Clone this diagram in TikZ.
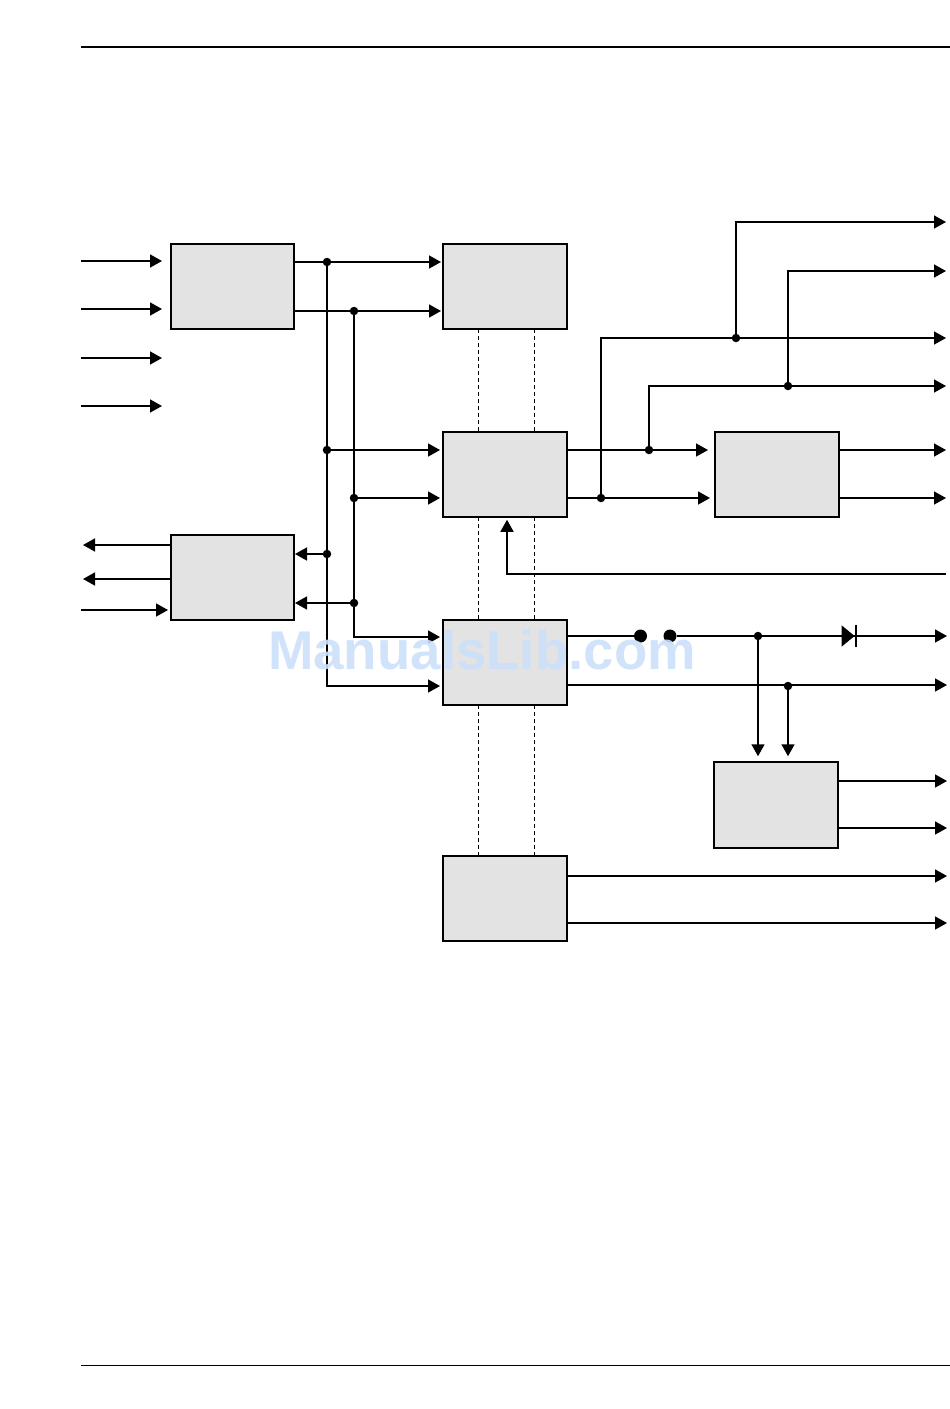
\documentclass[tikz,border=0pt]{standalone}
\usepackage{fontspec}
\setmainfont{Liberation Sans}
\usepackage{xcolor}
\usetikzlibrary{arrows.meta, positioning}
\definecolor{boxgray}{HTML}{E3E3E3}
\definecolor{markblue}{HTML}{CCE0FA}

\begin{document}
\begin{tikzpicture}[
  x=1pt, y=-1pt,
  block/.style={rectangle, draw=black, fill=boxgray, line width=1.8pt, outer sep=0pt,
                minimum width=123pt, minimum height=84.5pt, inner sep=0pt},
  wideblock/.style={block, minimum width=124pt},
  dot/.style={circle, fill=black, inner sep=0pt, minimum size=8.5pt},
  contact/.style={circle, fill=black, inner sep=0pt, minimum size=13pt},
  wire/.style={line width=1.6pt},
  arr/.style={wire, -{Triangle[length=12pt,width=13pt]}},
  bus/.style={line width=0.8pt, dash pattern=on 4pt off 3pt},
  node distance=103.5pt and 149pt
]
  \useasboundingbox (0,0) rectangle (950,1409);

  % rules
  \coordinate (t1) at (81,47);
  \coordinate (t2) at (950,47);
  \coordinate (b1) at (81,1365);
  \coordinate (b2) at (950,1365);
  \draw[line width=2pt] (t1) -- (t2);
  \draw[line width=0.9pt] (b1) -- (b2);

  % blocks
  \node[block] (ina) at (232.5,286.5) {};
  \node[wideblock, right=of ina] (chb) {};
  \node[wideblock, below=of chb] (chc) {};
  \node[wideblock, right=148pt of chc] (chd) {};
  \node[wideblock, below=103pt of chc, minimum height=85.5pt] (chf) {};
  \node[wideblock, below=151pt of chf] (chh) {};
  \node[block, below=206.5pt of ina] (ine) {};
  \node[wideblock, below=245.5pt of chd, xshift=-1pt, minimum height=85.5pt] (chg) {};

  % dashed links
  \coordinate (l1) at (478,0);
  \coordinate (l2) at (534,0);
  \draw[bus] (chb.south -| l1) -- (chc.north -| l1);
  \draw[bus] (chc.south -| l1) -- (chf.north -| l1);
  \draw[bus] (chf.south -| l1) -- (chh.north -| l1);
  \draw[bus] (chb.south -| l2) -- (chc.north -| l2);
  \draw[bus] (chc.south -| l2) -- (chf.north -| l2);
  \draw[bus] (chf.south -| l2) -- (chh.north -| l2);

  % junctions
  \node[dot] (j1) at (327,262) {};
  \node[dot] (j2) at (354,311) {};
  \node[dot] (j3) at (327,450) {};
  \node[dot] (j4) at (354,498) {};
  \node[dot] (j5) at (327,554) {};
  \node[dot] (j6) at (354,603) {};
  \node[dot] (j7) at (601,498) {};
  \node[dot] (j8) at (649,450) {};
  \node[dot] (j9) at (736,338) {};
  \node[dot] (j10) at (788,386) {};
  \node[dot] (j11) at (758,636) {};
  \node[dot] (j12) at (788,686) {};

  % free ends
  \coordinate (i1a) at (81,261);
  \coordinate (i1b) at (162,261);
  \coordinate (i2a) at (81,309);
  \coordinate (i2b) at (162,309);
  \coordinate (i3a) at (81,358);
  \coordinate (i3b) at (162,358);
  \coordinate (i4a) at (81,406);
  \coordinate (i4b) at (162,406);
  \coordinate (e1) at (83,545);
  \coordinate (e2) at (83,579);
  \coordinate (e3) at (81,610);
  \coordinate (o1) at (946,222);
  \coordinate (o2) at (946,271);
  \coordinate (o3) at (946,338);
  \coordinate (o4) at (946,386);
  \coordinate (o5) at (946,450);
  \coordinate (o6) at (946,498);
  \coordinate (o7) at (946,574);
  \coordinate (o8) at (947,636);
  \coordinate (o9) at (947,685);
  \coordinate (o10) at (947,781);
  \coordinate (o11) at (947,828);
  \coordinate (o12) at (947,876);
  \coordinate (o13) at (947,923);

  \draw[arr] (i1a) -- (i1b);
  \draw[arr] (i2a) -- (i2b);
  \draw[arr] (i3a) -- (i3b);
  \draw[arr] (i4a) -- (i4b);
  \draw[arr] (ine.west |- e1) -- (e1);
  \draw[arr] (ine.west |- e2) -- (e2);
  \draw[arr, shorten >=3pt] (e3) -- (ine.west |- e3);

  % left buses
  \draw[arr, shorten >=2pt] (ina.east |- j1) -- (chb.west |- j1);
  \draw[arr, shorten >=2pt] (ina.east |- j2) -- (chb.west |- j2);
  \draw[wire] (j1) -- (j5);
  \draw[arr, shorten >=3pt] (j1) |- (chf.west |- 0,686);
  \draw[arr, shorten >=3pt] (j2) |- (chf.west |- 0,637);
  \draw[arr, shorten >=3pt] (j3) -- (chc.west |- j3);
  \draw[arr, shorten >=3pt] (j4) -- (chc.west |- j4);
  \draw[arr, shorten >=1pt] (j5) -- (ine.east |- j5);
  \draw[arr, shorten >=1pt] (j6) -- (ine.east |- j6);

  % channel c
  \draw[arr, shorten >=7pt] (chc.east |- j8) -- (chd.west |- j8);
  \draw[arr, shorten >=5pt] (chc.east |- j7) -- (chd.west |- j7);
  \draw[arr] (j7) |- (o3);
  \draw[arr] (j8) |- (o4);
  \draw[arr] (j9) |- (o1);
  \draw[arr] (j10) |- (o2);
  \draw[arr] (chd.east |- o5) -- (o5);
  \draw[arr] (chd.east |- o6) -- (o6);
  \draw[arr, shorten >=3pt] (o7) -| (chc.south -| 507,0);

  % channel f
  \node[contact] (s1) at (640.5,636) {};
  \node[contact] (s2) at (670,636) {};
  \coordinate (dio) at (857,636);
  \draw[wire] (chf.east |- o8) -- (s1);
  \draw[wire, -{Triangle[length=13pt,width=21pt] Bar[width=22pt,line width=2.4pt]}] (s2) -- (dio);
  \draw[arr] (dio) -- (o8);
  \draw[arr] (chf.east |- o9) -- (o9);
  \draw[arr, shorten >=6pt] (j11) -- (chg.north -| j11);
  \draw[arr, shorten >=6pt] (j12) -- (chg.north -| j12);

  % outputs g, h
  \draw[arr] (chg.east |- o10) -- (o10);
  \draw[arr] (chg.east |- o11) -- (o11);
  \draw[arr] (chh.east |- o12) -- (o12);
  \draw[arr] (chh.east |- o13) -- (o13);

  \node[text=markblue, opacity=0.9, font=\fontsize{54.6}{60}\selectfont\bfseries, inner sep=0pt] (mark) at (482,650) {ManualsLib.com};
\end{tikzpicture}
\end{document}
